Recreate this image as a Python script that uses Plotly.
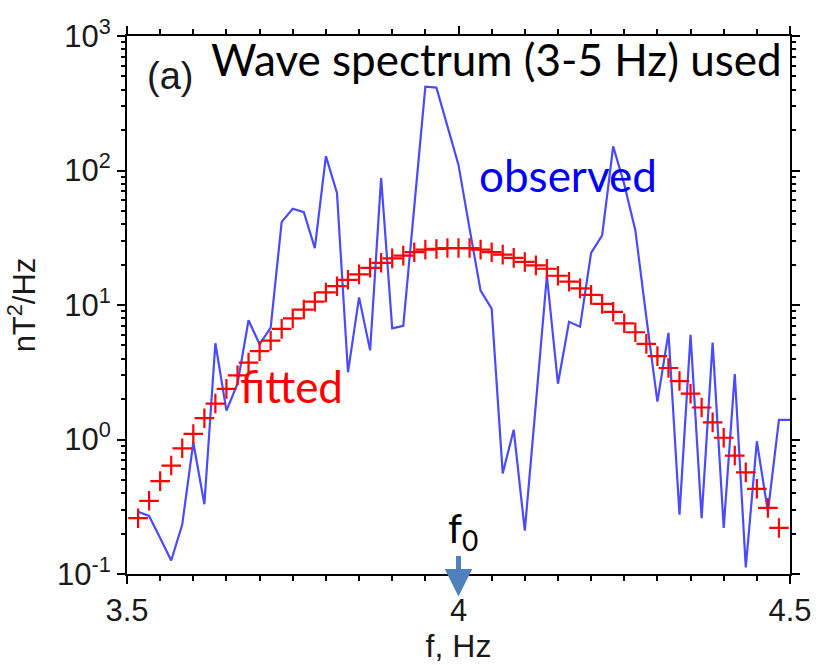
import plotly.graph_objects as go

# frequency grid (Hz)
freq_obs = [3.5167, 3.5333, 3.55, 3.5667, 3.5833, 3.6, 3.6167, 3.6333, 3.65, 3.6667,
            3.6833, 3.7, 3.7167, 3.7333, 3.75, 3.7667, 3.7833, 3.8, 3.8167, 3.8333,
            3.85, 3.8667, 3.8833, 3.9, 3.9167, 3.9333, 3.95, 3.9667, 3.9833, 4.0,
            4.0167, 4.0333, 4.05, 4.0667, 4.0833, 4.1, 4.1167, 4.1333, 4.15, 4.1667,
            4.1833, 4.2, 4.2167, 4.2333, 4.25, 4.2667, 4.2833, 4.3, 4.3167, 4.3333,
            4.35, 4.3667, 4.3833, 4.4, 4.4167, 4.4333, 4.45, 4.4667, 4.4833, 4.5]

# observed spectrum, nT^2/Hz
observed = [0.29, 0.27, 0.185, 0.126, 0.233, 0.95, 0.33, 5.2, 1.64, 2.6,
            7.7, 5.1, 6.8, 41.5, 52, 49, 26.5, 128, 68, 3.16,
            11.4, 4.6, 88, 6.7, 7.0, 54, 420, 413, 216, 110,
            37, 12.8, 9.4, 0.56, 1.18, 0.21, 1.85, 16.5, 2.6, 7.5,
            6.9, 24.4, 33, 151, 79, 36, 8.1, 1.91, 6.2, 0.276,
            6.0, 0.26, 5.25, 0.22, 3.07, 0.112, 0.97, 0.29, 1.40, 1.40]

freq_fit = [3.5167, 3.5333, 3.55, 3.5667, 3.5833, 3.6, 3.6167, 3.6333, 3.65, 3.6667,
            3.6833, 3.7, 3.7167, 3.7333, 3.75, 3.7667, 3.7833, 3.8, 3.8167, 3.8333,
            3.85, 3.8667, 3.8833, 3.9, 3.9167, 3.9333, 3.95, 3.9667, 3.9833, 4.0,
            4.0167, 4.0333, 4.05, 4.0667, 4.0833, 4.1, 4.1167, 4.1333, 4.15, 4.1667,
            4.1833, 4.2, 4.2167, 4.2333, 4.25, 4.2667, 4.2833, 4.3, 4.3167, 4.3333,
            4.35, 4.3667, 4.3833, 4.4, 4.4167, 4.4333, 4.45, 4.4667, 4.4833]

# fitted spectrum, nT^2/Hz
fitted = [0.26, 0.35, 0.49, 0.64, 0.86, 1.1, 1.44, 1.85, 2.38, 3.0,
          3.73, 4.54, 5.43, 6.65, 7.96, 9.25, 10.6, 12.4, 13.8, 15.4,
          16.9, 18.9, 20.6, 22.2, 23.3, 24.7, 25.8, 26.1, 26.5, 26.5,
          26.5, 25.8, 24.7, 23.7, 22.4, 20.9, 19.7, 18.6, 16.5, 14.9,
          13.3, 11.9, 10.2, 8.9, 7.31, 6.27, 5.14, 4.17, 3.40, 2.72,
          2.19, 1.73, 1.34, 1.03, 0.76, 0.57, 0.43, 0.31, 0.22]

f0 = 4.0
x_ticks = [3.5, 4.0, 4.5]
x_ticktext = ["3.5", "4", "4.5"]
y_ticks = [0.1, 1, 10, 100, 1000]
y_ticktext = ["10<sup>-1</sup>", "10<sup>0</sup>", "10<sup>1</sup>", "10<sup>2</sup>", "10<sup>3</sup>"]

axisfam = "Liberation Sans, Arial, sans-serif"
tickfont = dict(family=axisfam, size=31, color="#1a1a1a")
notefont = "Lato, Noto Sans, sans-serif"

fig = go.Figure()
fig.add_trace(go.Scatter(x=freq_obs, y=observed, mode="lines",
                         line=dict(color="#4a4aff", width=2.2), showlegend=False))
fig.add_trace(go.Scatter(x=freq_fit, y=fitted, mode="markers",
                         marker=dict(symbol="cross-thin", size=14,
                                     line=dict(color="#ff0000", width=2.2)),
                         showlegend=False))

fig.update_layout(
    width=824, height=665,
    margin=dict(l=127, r=26, t=36, b=81),
    paper_bgcolor="white", plot_bgcolor="white",
    showlegend=False,
    xaxis=dict(range=[3.5, 4.5], tickvals=x_ticks, ticktext=x_ticktext,
               ticks="outside", ticklen=8, tickwidth=1.5, tickcolor="black",
               showline=True, linecolor="black", linewidth=2, mirror="ticks",
               showgrid=False, zeroline=False, tickfont=tickfont,
               minor=dict(dtick=0.05, tick0=3.5, ticks="outside", ticklen=5,
                          tickwidth=1.5, tickcolor="black", showgrid=False),
               title=dict(text="f, Hz", font=dict(family=axisfam, size=32, color="#1a1a1a"),
                          standoff=2)),
    yaxis=dict(type="log", range=[-1, 3], tickvals=y_ticks, ticktext=y_ticktext,
               ticks="outside", ticklen=8, tickwidth=1.5, tickcolor="black",
               showline=True, linecolor="black", linewidth=2, mirror="ticks",
               showgrid=False, zeroline=False, tickfont=tickfont,
               minor=dict(dtick="D1", ticks="outside", ticklen=4,
                          tickwidth=1.5, tickcolor="black", showgrid=False),
               title=dict(text="nT<sup>2</sup>/Hz", font=dict(family=axisfam, size=31, color="#1a1a1a"),
                          standoff=12)),
)

fig.add_annotation(text="(a)", xref="paper", yref="paper", x=0.027, y=0.925,
                   xanchor="left", yanchor="middle", showarrow=False,
                   font=dict(family=axisfam, size=38, color="#1a1a1a"))
fig.add_annotation(text="Wave spectrum (3-5 Hz) used", xref="paper", yref="paper",
                   x=0.124, y=0.957, xanchor="left", yanchor="middle", showarrow=False,
                   font=dict(family=notefont, size=44, color="black"))
fig.add_annotation(text="observed", xref="paper", yref="paper", x=0.528, y=0.741,
                   xanchor="left", yanchor="middle", showarrow=False,
                   font=dict(family=notefont, size=44, color="#0000ff"))
fig.add_annotation(text="fitted", xref="paper", yref="paper", x=0.168, y=0.35,
                   xanchor="left", yanchor="middle", showarrow=False,
                   font=dict(family=notefont, size=44, color="#ff0000"))
fig.add_annotation(text="f<sub>0</sub>", xref="x", yref="paper", x=f0, y=0.08,
                   xanchor="center", yanchor="middle", showarrow=False, xshift=4,
                   font=dict(family=notefont, size=40, color="black"))
fig.add_annotation(text="", xref="x", yref="paper", x=f0, y=-0.042,
                   ax=0, ay=-42, showarrow=True, arrowhead=2, arrowsize=1.1,
                   arrowwidth=5, arrowcolor="#4f81bd")

fig.write_html("out.html")
